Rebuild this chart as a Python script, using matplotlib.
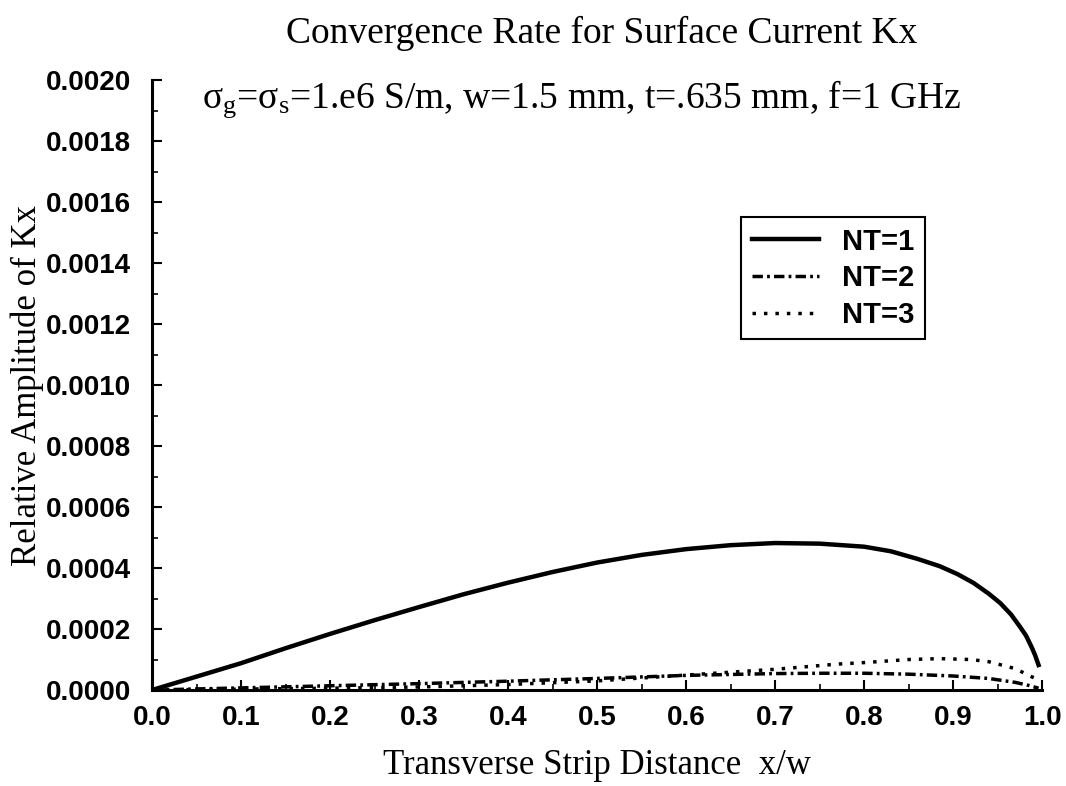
import numpy as np
import matplotlib.pyplot as plt
from matplotlib.ticker import MultipleLocator

plt.rcParams['mathtext.fontset'] = 'custom'
plt.rcParams['mathtext.rm'] = 'Liberation Serif'
plt.rcParams['mathtext.it'] = 'Liberation Serif:italic'

# values
x1 = [0, 0.05, 0.1, 0.15, 0.2, 0.25, 0.3, 0.35, 0.4, 0.45, 0.5, 0.55, 0.6, 0.65,
      0.7, 0.75, 0.8, 0.83, 0.86, 0.885, 0.905, 0.923, 0.94, 0.953, 0.965,
      0.975, 0.982, 0.988, 0.992, 0.996]
nt1 = [0, 0.000044, 0.000088, 0.000137, 0.000184, 0.000229, 0.000272, 0.000314,
       0.000352, 0.000387, 0.000418, 0.000443, 0.000462, 0.000475, 0.000482,
       0.00048, 0.00047, 0.000455, 0.00043, 0.000406, 0.00038, 0.000351,
       0.000316, 0.000285, 0.000248, 0.000208, 0.000178, 0.000142, 0.000115,
       0.000082]

x2 = [0, 0.1, 0.2, 0.3, 0.4, 0.5, 0.6, 0.7, 0.75, 0.8, 0.85, 0.9, 0.94, 0.97,
      0.985, 0.996]
nt2 = [0, 0.000007, 0.000014, 0.000021, 0.000029, 0.000038, 0.000048, 0.000054,
       0.000055, 0.000055, 0.000052, 0.000046, 0.000038, 0.000025, 0.000015,
       0.000006]

x3 = [0, 0.1, 0.2, 0.3, 0.4, 0.5, 0.6, 0.7, 0.77, 0.8, 0.85, 0.885, 0.92, 0.94,
      0.97, 0.987, 0.995]
nt3 = [0, 0.000003, 0.000006, 0.00001, 0.000018, 0.00003, 0.000049, 0.000068,
       0.000085, 0.00009, 0.0001, 0.000103, 0.0001, 0.000093, 0.00007,
       0.000045, 0.000035]

fig = plt.figure(figsize=(10.66, 7.86), dpi=100)
ax = fig.add_axes([0.1426, 0.1221, 0.835, 0.776])

ax.plot(x1, nt1, color='black', lw=3.2, ls='-', label='NT=1')
ax.plot(x2, nt2, color='black', lw=2.5, ls=(0, (3, 1.2, 0.8, 1.2)), label='NT=2')
ax.plot(x3, nt3, color='black', lw=2.5, ls=(0, (1, 2.3)), label='NT=3')

ax.set_xlim(0, 1.0)
ax.set_ylim(0, 0.002)
ax.xaxis.set_major_locator(MultipleLocator(0.1))
ax.xaxis.set_minor_locator(MultipleLocator(0.05))
ax.yaxis.set_major_locator(MultipleLocator(0.0002))
ax.yaxis.set_minor_locator(MultipleLocator(0.0001))
ax.xaxis.set_major_formatter(plt.FormatStrFormatter('%.1f'))
ax.yaxis.set_major_formatter(plt.FormatStrFormatter('%.4f'))

ax.spines['top'].set_visible(False)
ax.spines['right'].set_visible(False)
ax.spines['left'].set_linewidth(2.2)
ax.spines['bottom'].set_linewidth(2.2)
ax.tick_params(which='major', direction='in', length=7, width=1.5)
ax.tick_params(which='minor', direction='in', length=4, width=1.2)
ax.tick_params(axis='x', pad=11)
ax.tick_params(axis='y', pad=15)
for lab in ax.get_xticklabels() + ax.get_yticklabels():
    lab.set_fontfamily('Liberation Sans')
    lab.set_fontweight('bold')
    lab.set_fontsize(20)

ax.set_xlabel('Transverse Strip Distance  x/w', fontfamily='Liberation Serif',
              fontsize=25, labelpad=13)
ax.set_ylabel('Relative Amplitude of Kx', fontfamily='Liberation Serif',
              fontsize=25, labelpad=0)
ax.yaxis.set_label_coords(-0.121, 0.5)

fig.text(0.564, 0.958, 'Convergence Rate for Surface Current Kx',
         ha='center', va='center', fontfamily='Liberation Serif', fontsize=27)
fig.text(0.546, 0.863,
         r'σ$_\mathrm{g}$=σ$_\mathrm{s}$=1.e6 S/m, w=1.5 mm, t=.635 mm, f=1 GHz',
         ha='center', va='baseline', fontfamily='Liberation Serif', fontsize=27)

leg = ax.legend(loc='upper right', bbox_to_anchor=(0.868, 0.775),
                prop={'family': 'Liberation Sans', 'weight': 'bold', 'size': 21},
                fancybox=False, edgecolor='black', framealpha=1,
                handlelength=2.3, borderpad=0.35, labelspacing=0.3,
                borderaxespad=0)
leg.get_frame().set_linewidth(1.5)

plt.savefig('out.png', dpi=100)
